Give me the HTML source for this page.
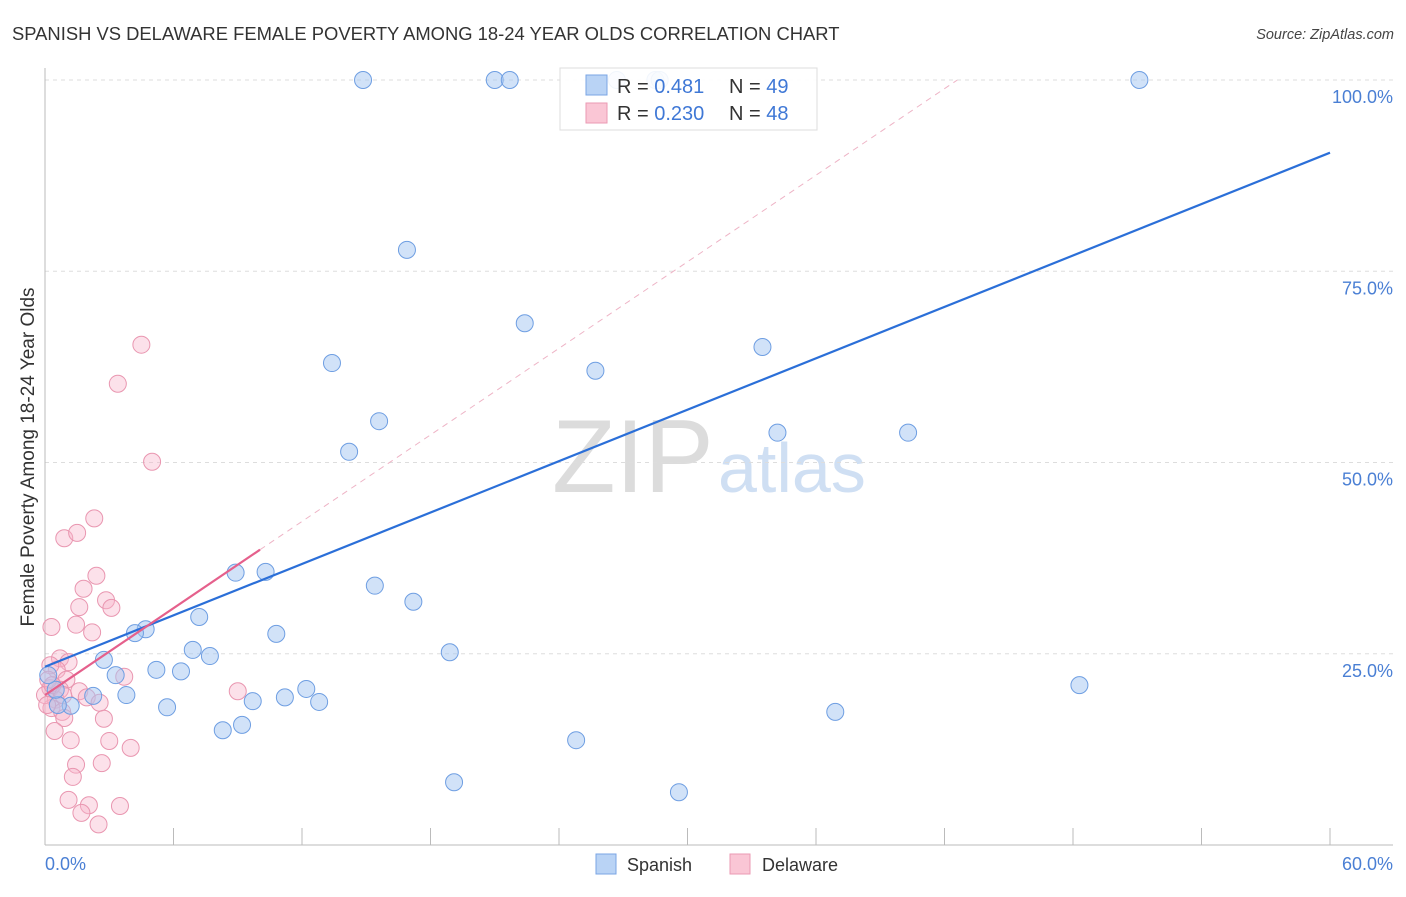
<!DOCTYPE html>
<html><head><meta charset="utf-8"><style>
html,body{margin:0;padding:0;background:#fff;}
svg text{font-family:"Liberation Sans",sans-serif;}
</style></head><body>
<svg id="chart" width="1406" height="892" xmlns="http://www.w3.org/2000/svg">
<text x="12" y="40" font-size="18.4" fill="#333">SPANISH VS DELAWARE FEMALE POVERTY AMONG 18-24 YEAR OLDS CORRELATION CHART</text>
<text x="1394" y="39" font-size="14.5" fill="#444" font-style="italic" text-anchor="end">Source: ZipAtlas.com</text>
<g>
<text x="552" y="492" font-size="104" fill="#dcdcdc" font-family="Liberation Serif,serif">ZIP</text>
<text x="718" y="492" font-size="70" fill="#cfdff3">atlas</text>
</g>
<g id="grid"></g><g id="axes"></g><g id="marks"></g>
<text transform="translate(34,457) rotate(-90)" font-size="19" fill="#333" text-anchor="middle">Female Poverty Among 18-24 Year Olds</text>
<text x="45" y="870" font-size="18" fill="#4a7fd4">0.0%</text>
<text x="1393" y="870" font-size="18" fill="#4a7fd4" text-anchor="end">60.0%</text>
<g>
<rect x="596" y="854" width="20" height="20" fill="#b9d3f5" stroke="#7aa4e4"/>
<text x="627" y="871" font-size="18" fill="#333">Spanish</text>
<rect x="730" y="854" width="20" height="20" fill="#fac6d5" stroke="#eb9ab3"/>
<text x="762" y="871" font-size="18" fill="#333">Delaware</text>
</g>
<g>
<rect x="560" y="68" width="257" height="62" fill="#fff" fill-opacity="0.9" stroke="#ddd"/>
<rect x="586" y="75" width="21" height="20" fill="#b9d3f5" stroke="#7aa4e4"/>
<text x="617" y="93" font-size="20" fill="#333">R = <tspan fill="#3f78d6">0.481</tspan></text>
<text x="729" y="93" font-size="20" fill="#333">N = <tspan fill="#3f78d6">49</tspan></text>
<rect x="586" y="103" width="21" height="20" fill="#fac6d5" stroke="#eb9ab3"/>
<text x="617" y="120" font-size="20" fill="#333">R = <tspan fill="#3f78d6">0.230</tspan></text>
<text x="729" y="120" font-size="20" fill="#333">N = <tspan fill="#3f78d6">48</tspan></text>
</g>
</svg>
<script>
const yTicks=[25,50,75,100];
const yTickLabels=["25.0%","50.0%","75.0%","100.0%"];
const xTicks=[0,6,12,18,24,30,36,42,48,54,60];
const spanishX=[14.85,21.0,21.7,26.7,28.5,28.7,51.1,16.9,22.4,13.4,25.7,33.5,15.6,14.2,34.2,40.3,8.9,10.3,15.4,17.2,7.2,4.7,4.2,10.8,6.9,7.7,18.9,2.75,5.2,6.35,3.3,48.3,12.2,3.8,2.25,11.2,9.7,12.8,5.7,1.2,36.9,8.3,9.2,24.8,19.1,29.6,0.6,0.5,0.15];
const spanishY=[100,100,100,100,100,100,100,77.8,68.2,63.0,62.0,65.1,55.4,51.4,53.9,53.9,35.6,35.7,33.9,31.8,29.8,28.2,27.7,27.6,25.5,24.7,25.2,24.2,22.9,22.7,22.2,20.9,20.4,19.6,19.5,19.3,18.8,18.7,18.0,18.2,17.4,15.0,15.7,13.7,8.2,6.9,18.3,20.3,22.2];
const delawareX=[4.5,3.4,5.0,2.3,0.9,1.5,2.4,1.8,1.6,2.85,3.1,0.3,1.45,2.2,0.7,1.1,0.55,0.25,1.0,3.7,0.25,0.7,1.6,1.95,9.0,0.5,2.55,0.3,0.8,0.9,2.75,0.45,1.2,3.0,4.0,1.45,2.65,1.3,1.1,2.05,3.5,1.7,2.5,0.15,0,0.35,0.85,0.1];
const delawareY=[65.4,60.3,50.1,42.7,40.1,40.8,35.2,33.5,31.1,32.0,31.0,28.5,28.8,27.8,24.4,23.9,22.9,23.5,21.6,22.0,20.5,20.3,20.1,19.3,20.1,19.0,18.6,17.9,17.4,16.6,16.5,14.9,13.7,13.6,12.7,10.5,10.7,8.9,5.9,5.2,5.1,4.2,2.7,21.6,19.6,20.9,19.6,18.3];
const spanishTrend=[[0,23.3],[60,90.5]];
const delawareTrend=[[0,19.6],[10.04,38.6]];
const delawareTrendExt=[[10.04,38.6],[42.6,100]];

const NS="http://www.w3.org/2000/svg";
const X=v=>45+v*(1285/60);
const Y=v=>845-v*7.65;
function mk(tag,attrs,parent){const e=document.createElementNS(NS,tag);for(const k in attrs)e.setAttribute(k,attrs[k]);document.getElementById(parent).appendChild(e);return e;}
yTicks.forEach((t,i)=>{
 const g=mk('line',{x1:45,x2:1393,y1:Y(t),y2:Y(t),stroke:'#ddd','stroke-dasharray':'4,4'},'grid');
 
 
 const l=mk('text',{x:1393,y:Y(t)+23,'font-size':18,fill:'#4a7fd4','text-anchor':'end'},'grid');
 l.textContent=yTickLabels[i];
 
 
});
const ya=mk('line',{x1:45,x2:45,y1:68,y2:845,stroke:'#bbb'},'axes');


const xa=mk('line',{x1:45,x2:1393,y1:845,y2:845,stroke:'#bbb'},'axes');


xTicks.forEach(t=>{
 const k=mk('line',{x1:X(t),x2:X(t),y1:828,y2:845,stroke:'#bbb'},'axes');
 
 
});
function dots(xs,ys,fill,stroke,name){
 xs.forEach((v,i)=>{
  const c=mk('circle',{cx:X(v),cy:Y(ys[i]),r:8.5,fill:fill,stroke:stroke,'stroke-width':1},'marks');
  
  
 });
}
dots(delawareX,delawareY,'rgba(248,180,202,0.4)','#e996b0','delaware-point');
dots(spanishX,spanishY,'rgba(164,198,242,0.5)','#6e9ee2','spanish-point');
const ext=mk('line',{x1:X(delawareTrendExt[0][0]),y1:Y(delawareTrendExt[0][1]),x2:X(delawareTrendExt[1][0]),y2:Y(delawareTrendExt[1][1]),stroke:'#eeb4c6','stroke-width':1,'stroke-dasharray':'6,5'},'marks');


const bt=mk('line',{x1:X(spanishTrend[0][0]),y1:Y(spanishTrend[0][1]),x2:X(spanishTrend[1][0]),y2:Y(spanishTrend[1][1]),stroke:'#2b6fd8','stroke-width':2.2},'marks');


const pt=mk('line',{x1:X(delawareTrend[0][0]),y1:Y(delawareTrend[0][1]),x2:X(delawareTrend[1][0]),y2:Y(delawareTrend[1][1]),stroke:'#e5608c','stroke-width':2.2},'marks');


</script>
</body></html>
